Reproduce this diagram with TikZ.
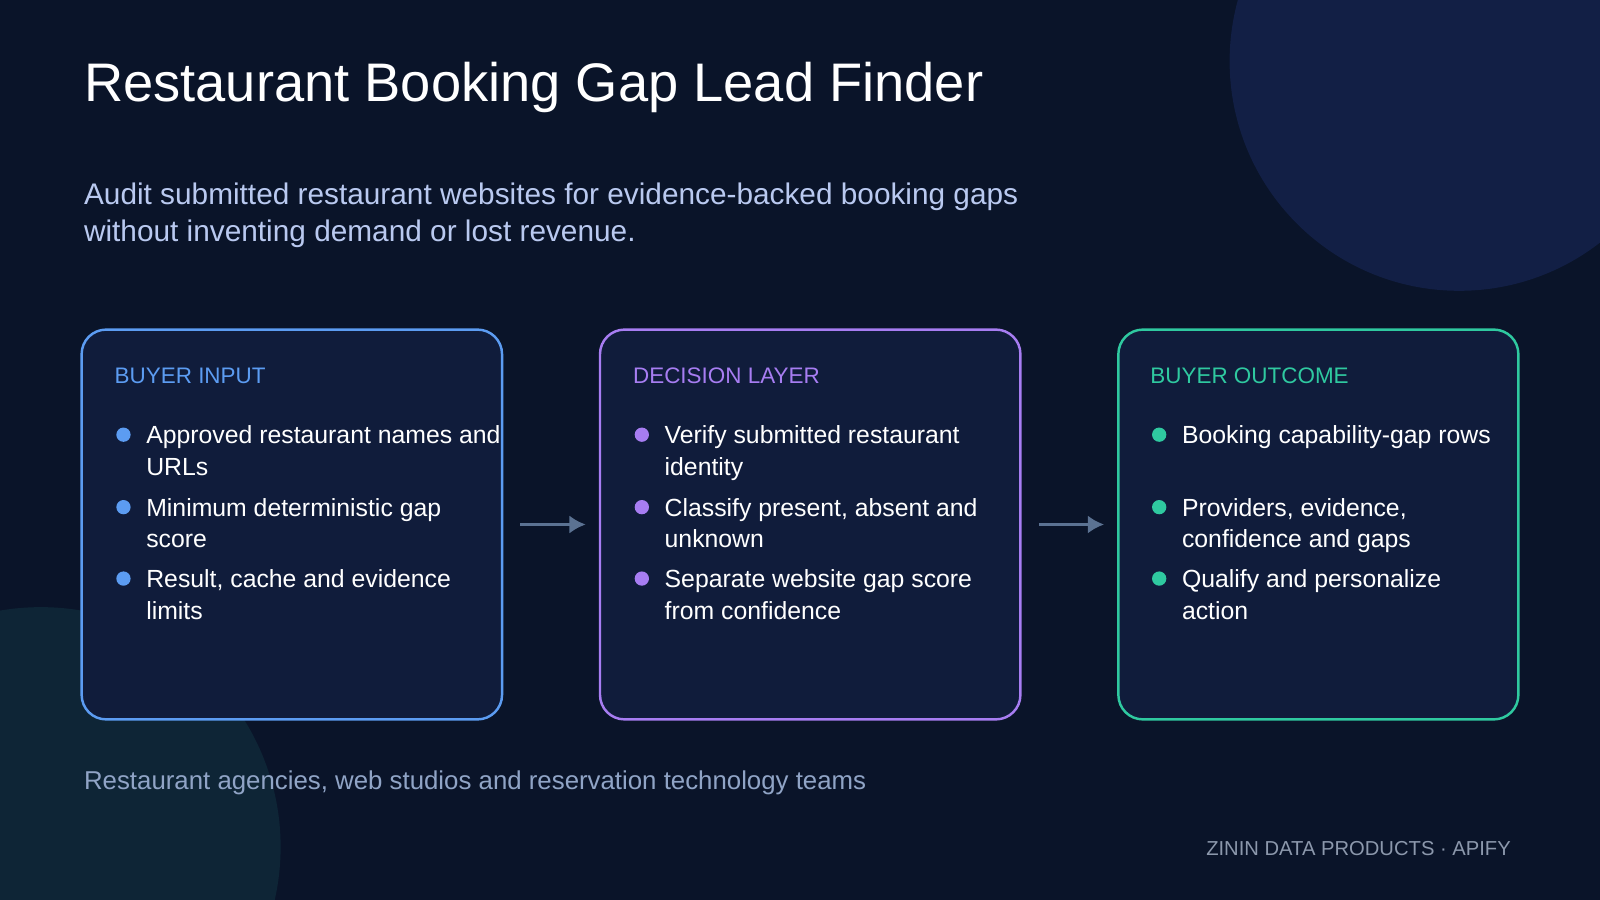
\documentclass[tikz,border=0pt]{standalone}
\usetikzlibrary{arrows.meta}
\usepackage{fontspec}
\setmainfont{Liberation Sans}
\definecolor{bg}{HTML}{0A1429}
\definecolor{circA}{HTML}{121F45}
\definecolor{circB}{HTML}{0E2536}
\definecolor{boxfill}{HTML}{101C3B}
\definecolor{cblue}{HTML}{5C9CF2}
\definecolor{cpurple}{HTML}{A77DF2}
\definecolor{cteal}{HTML}{2FC9A0}
\definecolor{subc}{HTML}{B9C9F0}
\definecolor{footc}{HTML}{90A4C6}
\definecolor{brand}{HTML}{8C98AC}
\definecolor{arrc}{HTML}{5B7292}
\begin{document}
\begin{tikzpicture}[x=0.5pt,y=-0.5pt,
  card/.style={draw=#1,line width=1.2pt,fill=boxfill,rounded corners=12pt},
  head/.style={anchor=base west,inner sep=0,font=\fontsize{11}{13}\selectfont,text=#1},
  txt/.style={anchor=base west,inner sep=0,font=\fontsize{12.15}{14}\selectfont,text=white},
  dot/.style={circle,fill=#1,minimum size=7pt,inner sep=0},
  arr/.style={draw=arrc,line width=1.8pt,-{Latex[length=8pt,width=9pt]}}]
\useasboundingbox (0,0) rectangle (1568,882);
\fill[bg] (0,0) rectangle (1568,882);
\begin{scope}
\clip (0,0) rectangle (1568,882);
\fill[circA] (1430,60) circle (225);
\fill[circB] (40,830) circle (235);
\end{scope}
\node[anchor=base west,inner sep=0,text=white,font=\fontsize{26.6}{32}\selectfont] (title) at (82,99) {Restaurant Booking Gap Lead Finder};
\node[anchor=base west,inner sep=0,text=subc,font=\fontsize{14.6}{18}\selectfont] (sub1) at (82,200) {Audit submitted restaurant websites for evidence-backed booking gaps};
\node[anchor=base west,inner sep=0,text=subc,font=\fontsize{14.6}{18}\selectfont] (sub2) at (82,237) {without inventing demand or lost revenue.};
% cards
\draw[card=cblue] (80,323) rectangle (492,705);
\draw[card=cpurple] (588,323) rectangle (1000,705);
\draw[card=cteal] (1096,323) rectangle (1488,705);
\coordinate (c1r) at (492,514); \coordinate (c2l) at (588,514);
\coordinate (c2r) at (1000,514); \coordinate (c3l) at (1096,514);
\draw[arr] ([xshift=9pt]c1r) -- ([xshift=-7pt]c2l);
\draw[arr] ([xshift=9pt]c2r) -- ([xshift=-7pt]c3l);
% card 1
\node[head=cblue] (h1) at (112,376) {BUYER INPUT};
\node[dot=cblue] (d11) at (121,426) {};
\node[txt] (t11) at (143,435) {Approved restaurant names and};
\node[txt] (t12) at (143,466) {URLs};
\node[dot=cblue] (d12) at (121,497) {};
\node[txt] (t13) at (143,506) {Minimum deterministic gap};
\node[txt] (t14) at (143,537) {score};
\node[dot=cblue] (d13) at (121,567) {};
\node[txt] (t15) at (143,576) {Result, cache and evidence};
\node[txt] (t16) at (143,607) {limits};
% card 2
\node[head=cpurple] (h2) at (620,376) {DECISION LAYER};
\node[dot=cpurple] (d21) at (629,426) {};
\node[txt] (t21) at (651,435) {Verify submitted restaurant};
\node[txt] (t22) at (651,466) {identity};
\node[dot=cpurple] (d22) at (629,497) {};
\node[txt] (t23) at (651,506) {Classify present, absent and};
\node[txt] (t24) at (651,537) {unknown};
\node[dot=cpurple] (d23) at (629,567) {};
\node[txt] (t25) at (651,576) {Separate website gap score};
\node[txt] (t26) at (651,607) {from confidence};
% card 3
\node[head=cteal] (h3) at (1127,376) {BUYER OUTCOME};
\node[dot=cteal] (d31) at (1136,426) {};
\node[txt] (t31) at (1158,435) {Booking capability-gap rows};
\node[dot=cteal] (d32) at (1136,497) {};
\node[txt] (t33) at (1158,506) {Providers, evidence,};
\node[txt] (t34) at (1158,537) {confidence and gaps};
\node[dot=cteal] (d33) at (1136,567) {};
\node[txt] (t35) at (1158,576) {Qualify and personalize};
\node[txt] (t36) at (1158,607) {action};
% footer
\node[anchor=base west,inner sep=0,text=footc,font=\fontsize{12.65}{15}\selectfont] (foot) at (82,774) {Restaurant agencies, web studios and reservation technology teams};
\node[anchor=base east,inner sep=0,text=brand,font=\fontsize{9.9}{12}\selectfont] (brandn) at (1481,838) {ZININ DATA PRODUCTS · APIFY};
\end{tikzpicture}
\end{document}
